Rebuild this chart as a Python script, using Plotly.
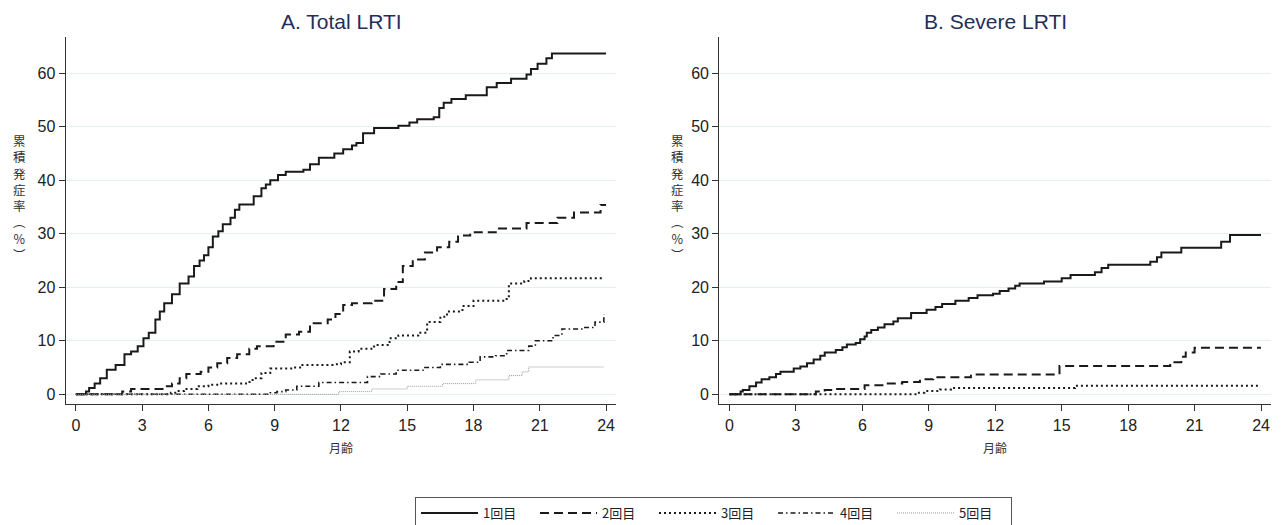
import plotly.graph_objects as go

# ---------------- data ----------------
months_ticks = [0, 3, 6, 9, 12, 15, 18, 21, 24]
pct_ticks = [0, 10, 20, 30, 40, 50, 60]
series_names = ["1回目", "2回目", "3回目", "4回目", "5回目"]
panel_titles = ["A. Total LRTI", "B. Severe LRTI"]
x_title = "月齢"
y_title = "累積発症率（%）"

# Panel A: Total LRTI
a1_x = [0, 0.46, 0.6, 0.85, 1.1, 1.4, 1.8, 2.2, 2.5, 2.8, 3.06, 3.3, 3.6, 3.8, 4.0, 4.35, 4.7, 5.1, 5.35, 5.6,
        5.8, 6.0, 6.2, 6.45, 6.65, 7.0, 7.2, 7.4, 8.05, 8.4, 8.6, 8.8, 9.15, 9.5, 10.3, 10.6, 11.0, 11.7, 12.1, 12.5,
        12.7, 13.0, 13.5, 14.6, 15.1, 15.45, 16.2, 16.45, 16.65, 17.0, 17.65, 18.6, 19.05, 19.7, 20.4, 20.6, 20.9,
        21.3, 21.55, 24.0]
a1_y = [0, 0.5, 1.2, 2.0, 3.0, 4.6, 5.5, 7.5, 8.0, 9.0, 10.5, 11.5, 14.0, 15.5, 17.0, 18.7, 20.7, 22.0, 24.0, 25.0,
        26.0, 27.5, 29.5, 30.5, 31.8, 33.0, 34.5, 35.5, 37.0, 38.5, 39.2, 40.0, 41.0, 41.6, 42.0, 43.0, 44.2, 45.0,
        45.8, 46.5, 47.0, 48.8, 49.8, 50.2, 50.8, 51.4, 51.8, 53.5, 54.5, 55.2, 55.9, 57.4, 58.2, 59.0, 59.8, 60.8,
        61.8, 62.8, 63.7, 63.7]

a2_x = [0, 2.1, 2.5, 4.0, 4.35, 4.7, 5.0, 5.65, 6.0, 6.4, 6.85, 7.3, 7.85, 8.2, 8.95, 9.5, 10.1, 10.6, 11.4, 11.75,
        12.1, 12.5, 13.4, 13.95, 14.5, 14.8, 15.25, 15.8, 16.35, 16.9, 17.3, 17.85, 19.1, 20.4, 21.8, 22.55, 23.75, 24.0]
a2_y = [0, 0.5, 1.0, 1.5, 2.0, 3.0, 3.8, 4.2, 5.0, 5.8, 6.8, 7.5, 8.5, 9.0, 9.8, 11.2, 11.7, 13.3, 14.0, 15.0,
        16.7, 17.0, 17.5, 19.7, 21.0, 24.0, 25.2, 26.5, 27.5, 28.5, 29.7, 30.3, 31.0, 32.0, 33.0, 34.0, 35.4, 35.4]

a3_x = [0, 4.3, 4.6, 4.9, 5.5, 6.0, 6.5, 7.7, 8.0, 8.4, 8.8, 9.8, 10.2, 11.7, 12.0, 12.4, 12.8, 13.5, 14.2, 14.6,
        15.5, 15.9, 16.5, 16.8, 17.5, 18.0, 19.5, 19.6, 20.3, 20.6, 23.9]
a3_y = [0, 0.3, 0.6, 1.0, 1.5, 1.8, 2.0, 2.3, 3.0, 4.0, 4.8, 5.0, 5.5, 5.6, 6.0, 8.0, 8.5, 9.2, 10.5, 11.0,
        11.5, 13.5, 14.5, 15.5, 16.5, 17.5, 17.8, 20.7, 21.2, 21.7, 21.7]

a4_x = [0, 8.8, 9.1, 9.5, 10.0, 11.0, 13.2, 13.8, 14.5, 15.8, 16.5, 17.8, 18.3, 19.0, 19.5, 20.5, 20.8, 21.6,
        22.0, 23.0, 23.5, 23.9]
a4_y = [0, 0.3, 0.5, 0.8, 1.5, 2.2, 3.3, 3.8, 4.5, 5.0, 5.6, 6.0, 7.0, 7.2, 8.2, 9.0, 10.0, 11.0, 12.2, 12.5,
        13.5, 15.0]

a5_x = [0, 11.9, 13.4, 15.0, 16.6, 18.1, 19.6, 20.2, 20.5, 23.9]
a5_y = [0, 0.5, 1.0, 1.5, 2.0, 2.7, 3.5, 4.2, 5.1, 5.1]

# Panel B: Severe LRTI
b1_x = [0, 0.5, 0.6, 0.9, 1.2, 1.45, 1.8, 2.1, 2.3, 2.9, 3.2, 3.5, 3.8, 4.1, 4.3, 4.8, 5.1, 5.3, 5.7, 5.9,
        6.1, 6.2, 6.4, 6.7, 7.0, 7.4, 7.6, 8.2, 8.9, 9.3, 9.6, 10.2, 10.8, 11.2, 11.9, 12.2, 12.6, 12.9, 13.1, 14.2,
        15.0, 15.4, 16.5, 16.8, 17.1, 19.0, 19.3, 19.5, 20.4, 22.2, 22.6, 24.0]
b1_y = [0, 0.5, 0.8, 1.5, 2.2, 2.8, 3.2, 3.8, 4.2, 4.8, 5.2, 5.8, 6.5, 7.2, 7.8, 8.3, 8.8, 9.3, 9.6, 10.3,
        10.8, 11.5, 12.0, 12.5, 13.1, 13.6, 14.2, 15.2, 15.8, 16.3, 16.9, 17.5, 18.0, 18.5, 18.8, 19.3, 19.8, 20.3,
        20.7, 21.1, 21.7, 22.3, 22.8, 23.6, 24.2, 24.8, 25.6, 26.5, 27.4, 28.5, 29.8, 29.8]

b2_x = [0, 3.9, 4.3, 4.8, 6.1, 7.0, 7.8, 8.6, 9.2, 10.9, 14.9, 19.9, 20.4, 20.6, 21.0, 24.0]
b2_y = [0, 0.5, 0.8, 1.0, 1.7, 2.0, 2.3, 2.8, 3.2, 3.7, 5.3, 6.0, 7.0, 7.8, 8.7, 8.7]

b3_x = [0, 8.5, 8.8, 9.5, 10.0, 15.6, 24.0]
b3_y = [0, 0.3, 0.6, 0.9, 1.2, 1.6, 1.6]

# ---------------- styling ----------------
W, H = 1282, 525
OFF = 8  # page body margin in the browser
INK = "#1a1a1a"
line_styles = [
    dict(color=INK, width=2, dash="solid"),
    dict(color=INK, width=2, dash="9px,5px"),
    dict(color=INK, width=2, dash="2px,3px"),
    dict(color=INK, width=1.6, dash="5px,3px,1.5px,3px"),
    dict(color="#9a9a9a", width=1, dash="1px,1px"),
]

panel_a = [(a1_x, a1_y), (a2_x, a2_y), (a3_x, a3_y), (a4_x, a4_y), (a5_x, a5_y)]
panel_b = [(b1_x, b1_y), (b2_x, b2_y), (b3_x, b3_y)]

fig = go.Figure()
for i, (xs, ys) in enumerate(panel_a):
    fig.add_trace(go.Scatter(x=xs, y=ys, mode="lines", line_shape="hv", name=series_names[i],
                             line=line_styles[i], xaxis="x", yaxis="y", showlegend=True))
for i, (xs, ys) in enumerate(panel_b):
    fig.add_trace(go.Scatter(x=xs, y=ys, mode="lines", line_shape="hv", name=series_names[i],
                             line=line_styles[i], xaxis="x2", yaxis="y2", showlegend=False))

def px_x(p):
    return (p - OFF) / W

def px_y(p):
    return 1 - (p - OFF) / H

tick_font = dict(family="Liberation Sans Narrow, Liberation Sans, Arial", size=16, color="#222")
xa = dict(range=[-0.46, 24.45], tickvals=months_ticks, ticks="outside", ticklen=6, tickwidth=1,
          tickcolor="#333", showline=True, linecolor="#333", linewidth=1.3, showgrid=False, zeroline=False,
          tickfont=tick_font, fixedrange=True)
ya = dict(range=[-1.87, 66.85], tickvals=pct_ticks, ticks="outside", ticklen=6, tickwidth=1,
          tickcolor="#333", showline=True, linecolor="#333", linewidth=1.3, showgrid=True,
          gridcolor="#e4efef", gridwidth=1.3, zeroline=False, tickfont=tick_font, fixedrange=True)

ydom = [px_y(404.3), px_y(36.7)]
fig.update_layout(
    width=W, height=H,
    margin=dict(l=0, r=0, t=0, b=0, autoexpand=False),
    paper_bgcolor="white", plot_bgcolor="white",
    xaxis=dict(xa, domain=[px_x(65.7), px_x(616)], anchor="y"),
    yaxis=dict(ya, domain=ydom, anchor="x"),
    xaxis2=dict(xa, domain=[px_x(719.3), px_x(1271)], anchor="y2"),
    yaxis2=dict(ya, domain=ydom, anchor="x2"),
    showlegend=True,
    legend=dict(orientation="h", x=px_x(415), xanchor="left", y=px_y(497), yanchor="top",
                bordercolor="#555", borderwidth=1, bgcolor="white",
                font=dict(family="Noto Sans CJK JP", size=13, color="#222"),
                itemwidth=57, entrywidth=47, entrywidthmode="pixels", tracegroupgap=0),
)

title_font = dict(family="Liberation Sans, Arial", size=21, color="#1f2f5a")
annos = []
for cx, t in [(341, panel_titles[0]), (995, panel_titles[1])]:
    annos.append(dict(x=px_x(cx), y=px_y(22), xref="paper", yref="paper", text=t, showarrow=False,
                      xanchor="center", yanchor="middle", font=title_font))
for cx in [341, 995]:
    annos.append(dict(x=px_x(cx), y=px_y(447), xref="paper", yref="paper", text=x_title, showarrow=False,
                      xanchor="center", yanchor="middle",
                      font=dict(family="Noto Sans CJK JP", size=12, color="#333")))
# stacked vertical y-axis title (upright characters, vertical brackets)
vert_chars = []
for ch in y_title:
    if ch == "（":
        vert_chars.append("︵")
    elif ch == "）":
        vert_chars.append("︶")
    else:
        vert_chars.append(ch)
vert_text = "<br>".join(vert_chars)
for cx in [19, 677]:
    annos.append(dict(x=px_x(cx), y=px_y(197), xref="paper", yref="paper", text=vert_text, showarrow=False,
                      xanchor="center", yanchor="middle",
                      font=dict(family="Noto Sans CJK JP", size=12.5, color="#333")))
fig.update_layout(annotations=annos)

fig.write_html("out.html")
